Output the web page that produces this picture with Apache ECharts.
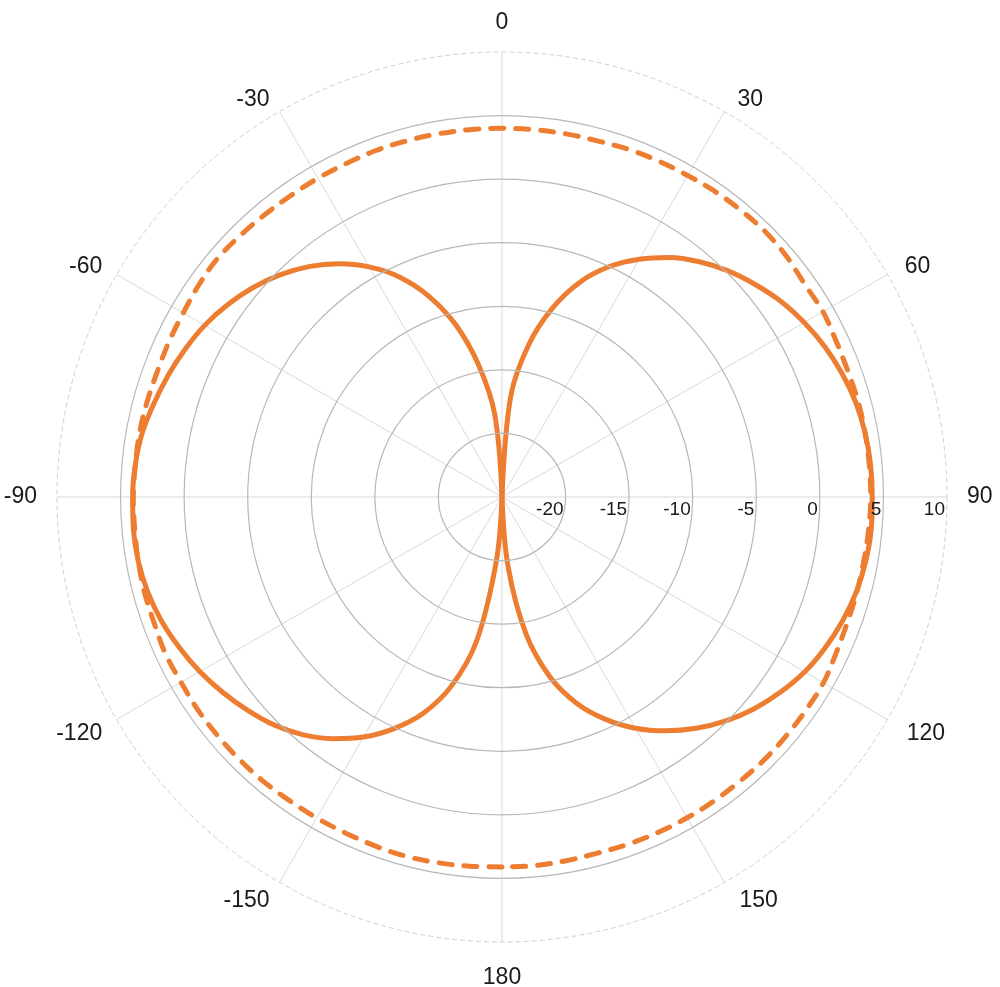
<!DOCTYPE html>
<html>
<head>
<meta charset="utf-8">
<script src="https://cdn.jsdelivr.net/npm/echarts@6/dist/echarts.min.js"></script>
<style>
html,body{margin:0;padding:0;background:#ffffff;}
#chart{width:1000px;height:987px;}
</style>
</head>
<body>
<div id="chart"></div>
<script>
// Angles in degrees (0 = top, clockwise positive)
const angles = [-180,-175,-170,-165,-160,-155,-150,-145,-140,-135,-130,-125,-120,-115,-110,-105,-100,-95,-90,-85,-80,-75,-70,-65,-60,-55,-50,-45,-40,-35,-30,-25,-20,-15,-10,-5,0,5,10,15,20,25,30,35,40,45,50,55,60,65,70,75,80,85,90,95,100,105,110,115,120,125,130,135,140,145,150,155,160,165,170,175,180];

// Solid pattern (figure-eight), dB
const solidGain = [-25,-20,-13.5,-9.6,-6.9,-4.9,-3.2,-1.8,-0.6,0.35,1.1,1.8,2.45,3.0,3.5,3.85,4.05,4.1,4.05,3.95,3.75,3.35,2.95,2.5,2.0,1.35,0.6,-0.3,-1.35,-2.6,-4.1,-5.9,-8.2,-11.0,-14.5,-18.5,-25,-17.0,-12.8,-9.6,-7.0,-5.0,-3.4,-2.0,-0.85,0.15,1.0,1.8,2.45,3.0,3.45,3.8,4.0,4.1,4.12,4.15,4.05,3.85,3.5,3.05,2.5,1.75,0.9,-0.1,-1.25,-2.55,-4.0,-5.7,-7.7,-10.3,-14.0,-19.5,-25];

// Dashed pattern (near omni), dB
const dashedGain = [4.1,4.15,4.2,4.25,4.2,4.15,4.15,4.15,4.2,4.2,4.2,4.2,4.15,4.2,4.1,4.1,4.05,4.0,4.0,3.95,3.95,3.9,3.85,3.9,3.95,4.1,4.2,4.1,4.0,3.95,3.95,3.95,4.0,4.0,4.0,4.0,4.0,4.0,4.0,4.0,4.1,4.15,4.2,4.3,4.35,4.4,4.3,4.1,4.15,4.0,3.95,4.0,4.0,4.0,4.0,3.95,3.9,3.9,3.9,4.0,4.2,4.2,4.2,4.2,4.15,4.15,4.13,4.1,4.05,4.0,4.05,4.1,4.1];

// Axis ticks
const radialMin = -25, radialMax = 10, radialStep = 5;
const angleStep = 30;
const mainAngleLabels = [0, 90, 180, -90];
const upperAngleLabels = [30, 60, -30, -60];
const lowerAngleLabels = [120, 150, -120, -150];

// axis runs from 90 (3 o'clock) clockwise to 450
function toAxis(a) { return a < 90 ? a + 360 : a; }
function toLabel(v) { return v > 180 ? v - 360 : v; }

const leftIdx = angles.map((a, i) => i).filter(i => angles[i] <= 0);
const rightIdx = angles.map((a, i) => i).filter(i => angles[i] >= 0);
const solidLeft = leftIdx.map(i => [solidGain[i], toAxis(angles[i])]);
const solidRight = rightIdx.map(i => [solidGain[i], toAxis(angles[i])]);
const dashedData = angles.map((a, i) => [dashedGain[i], toAxis(a)]);

const FONT = '"Liberation Sans", Arial, sans-serif';
const ORANGE = '#ED7D31';
const TXT = '#1a1a1a';

function labelAxis(idx, list, extra) {
  return Object.assign({
    polarIndex: idx, type: 'value', min: 90, max: 450, interval: angleStep,
    startAngle: 0, clockwise: true,
    axisLine: {show: false}, axisTick: {show: false}, splitLine: {show: false}
  }, extra, {
    axisLabel: Object.assign({
      show: true, fontSize: 23, color: TXT, fontFamily: FONT,
      formatter: function (v) {
        if (v >= 450) return '';
        const d = toLabel(v);
        return list.indexOf(d) >= 0 ? String(d) : '';
      }
    }, extra.axisLabel || {})
  });
}

const chart = echarts.init(document.getElementById('chart'), null, {renderer: 'canvas'});
chart.setOption({
  animation: false,
  backgroundColor: '#ffffff',
  polar: [
    {center: [502, 497], radius: 445},
    {center: [502, 497], radius: 445},
    {center: [502, 497], radius: 445}
  ],
  angleAxis: [
    labelAxis(0, mainAngleLabels, {
      axisLine: {show: true, lineStyle: {color: '#cfcfcf', width: 1, type: [5, 3]}},
      splitLine: {show: true, lineStyle: {color: '#d9d9d9', width: 1}},
      axisLabel: {margin: 20, lineHeight: 18, padding: [7, 0, 0, 0]}
    }),
    labelAxis(1, upperAngleLabels, {
      axisLabel: {margin: 12, lineHeight: 4, padding: [0, 4, 0, 7]}
    }),
    labelAxis(2, lowerAngleLabels, {
      axisLabel: {margin: 12, lineHeight: 16, padding: [0, 4, 0, 9]}
    })
  ],
  radiusAxis: [
    {
      polarIndex: 0, type: 'value', min: radialMin, max: radialMax, interval: radialStep,
      axisLine: {show: false}, axisTick: {show: false},
      splitLine: {show: true, lineStyle: {color: ['#b8b8b8','#b8b8b8','#b8b8b8','#b8b8b8','#b8b8b8','#b8b8b8','#b8b8b8','rgba(0,0,0,0)'], width: 1.2}},
      axisLabel: {
        show: true, showMinLabel: false, margin: -3, align: 'right', verticalAlign: 'top',
        padding: [0, 2, 0, 0], fontSize: 19, color: TXT, fontFamily: FONT
      },
      z: 10
    },
    {polarIndex: 1, type: 'value', min: radialMin, max: radialMax, interval: radialStep, show: false},
    {polarIndex: 2, type: 'value', min: radialMin, max: radialMax, interval: radialStep, show: false}
  ],
  series: [
    {
      type: 'line', coordinateSystem: 'polar', polarIndex: 0,
      data: solidLeft, showSymbol: false, symbol: 'none', smooth: 0.35,
      lineStyle: {color: ORANGE, width: 5, cap: 'round', join: 'round'},
      z: 3
    },
    {
      type: 'line', coordinateSystem: 'polar', polarIndex: 0,
      data: solidRight, showSymbol: false, symbol: 'none', smooth: 0.35,
      lineStyle: {color: ORANGE, width: 5, cap: 'round', join: 'round'},
      z: 3
    },
    {
      type: 'line', coordinateSystem: 'polar', polarIndex: 0,
      data: dashedData, showSymbol: false, symbol: 'none', smooth: 0.35,
      lineStyle: {color: ORANGE, width: 5, type: [13, 12], cap: 'round', join: 'round'},
      z: 4
    }
  ]
});
</script>
</body>
</html>
